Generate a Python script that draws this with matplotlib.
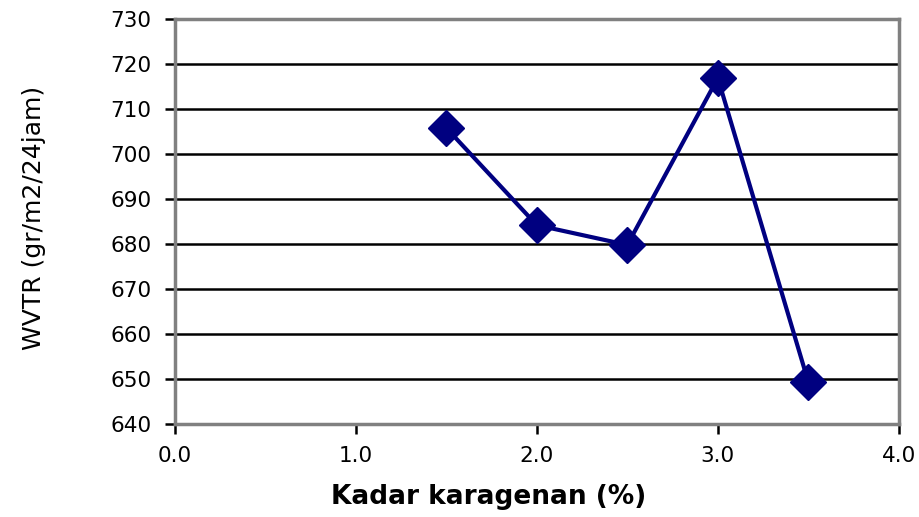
import matplotlib.pyplot as plt

# kadar karagenan (%) dan nilai WVTR
kadar = [1.5, 2.0, 2.5, 3.0, 3.5]
wvtr = [705.8, 684.2, 679.8, 716.9, 649.3]

x_ticks = [0.0, 1.0, 2.0, 3.0, 4.0]
y_ticks = list(range(640, 731, 10))

plt.rcParams['font.family'] = ['DejaVu Sans']

fig = plt.figure(figsize=(9.2, 5.17), dpi=100)
ax = fig.add_axes([0.190, 0.180, 0.787, 0.783])

for y in y_ticks[1:-1]:
    ax.axhline(y, color='black', linewidth=1.8, zorder=1)

ax.plot(kadar, wvtr, color='#000080', linewidth=3, marker='D',
        markersize=18, zorder=3, clip_on=False)

ax.set_xlim(0, 4)
ax.set_ylim(640, 730)
ax.set_xticks(x_ticks)
ax.set_xticklabels(['%.1f' % v for v in x_ticks])
ax.set_yticks(y_ticks)

for s in ax.spines.values():
    s.set_color('#808080')
    s.set_linewidth(2.5)

ax.tick_params(axis='both', direction='out', length=7, width=1.8,
               color='black', labelsize=15.5)
ax.tick_params(axis='y', pad=10)
ax.tick_params(axis='x', pad=9)

ax.set_xlabel('Kadar karagenan (%)', fontsize=19, fontweight='bold')
ax.set_ylabel('WVTR (gr/m2/24jam)', fontsize=18)
ax.xaxis.set_label_coords(0.434, -0.148)
ax.yaxis.set_label_coords(-0.178, 0.51)

fig.savefig('out.png', dpi=100)
